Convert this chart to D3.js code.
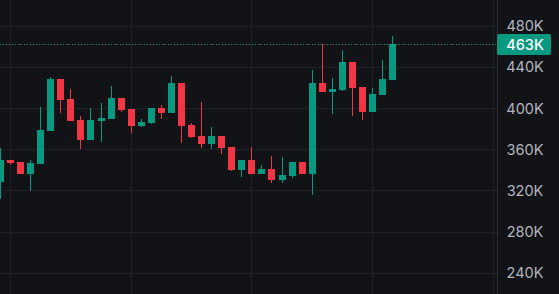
<!DOCTYPE html>
<meta charset="utf-8">
<style>
html, body {
  margin: 0;
  padding: 0;
  background: #121317;
  overflow: hidden;
}
.tick-label {
  font: 14.5px Inter, "Noto Sans", sans-serif;
  fill: #b2b5be;
}
</style>
<body>
<script src="https://d3js.org/d3.v7.min.js"></script>
<script>
// candle values in thousands, oldest first
var open = [329, 350, 348, 336.4, 346, 378, 428.6, 409.2, 388.8, 369.4, 387.8, 389.8, 410.1, 399.5, 383, 385.9, 400.4, 395.6, 424.7, 383.9,
            373.3, 365.5, 373.3, 362.6, 340.3, 350, 336.4, 341.2, 330.6, 334.4, 348, 336.4, 424.7, 416, 417.9, 445.1, 420.8, 396.5, 413, 427.6];
var high = [361.6, 350, 348, 350, 401.4, 430.5, 428.6, 418.9, 392.7, 400.4, 405.3, 421.8, 410.1, 399.5, 389.8, 400.4, 403.3, 431.5, 424.7, 385.9,
            406.2, 382, 373.3, 362.6, 350, 362.6, 345.1, 353.8, 352.9, 348, 348, 437.3, 462.5, 429.5, 456.7, 445.1, 420.8, 419.8, 447, 470.3];
var low = [312.1, 345.1, 336.4, 320.2, 346.1, 378.1, 395.6, 387.8, 360.6, 369.4, 367.4, 389.8, 396.5, 376.2, 382, 384.9, 389.8, 395.6, 366.5, 371.3,
           361.6, 360.6, 355.8, 339.3, 333.5, 336.4, 336.4, 327.6, 327.6, 332.5, 336.4, 316, 416, 394.6, 416.9, 392.7, 388.8, 396.5, 413, 427.6];
var close = [350, 347.1, 336.4, 347.1, 379.1, 428.6, 408.2, 387.8, 369.4, 388.8, 390.7, 410.1, 398.5, 383, 386.8, 400.4, 395.6, 424.7, 383, 372.3,
             365.5, 373.3, 361.6, 340.3, 350, 336.4, 341.2, 330.6, 335.4, 348, 336.4, 424.7, 416, 418.9, 445.1, 419.8, 396.5, 414, 428.6, 463];

var priceTicks = [240, 280, 320, 360, 400, 440, 480];
var timeGrid = [1, 13, 25, 37, 49];

var width = 559, height = 294, plotRight = 497;
var up = "#089981", down = "#f23645";

var data = open.map(function(o, i) {
  return {i: i, o: o, h: high[i], l: low[i], c: close[i]};
});

var x = d3.scaleLinear().domain([1, 37]).range([10.5, 372.5]);
var y = d3.scaleLinear().domain([240, 480]).range([273.3, 26]);

var svg = d3.select("body").append("svg")
    .attr("width", width)
    .attr("height", height)
    .style("display", "block");

svg.append("rect")
    .attr("width", width)
    .attr("height", height)
    .attr("fill", "#121317");

// grid
svg.append("g").selectAll("line")
    .data(priceTicks)
  .enter().append("line")
    .attr("x1", 0)
    .attr("x2", plotRight)
    .attr("y1", function(d) { return Math.floor(y(d)) + 0.5; })
    .attr("y2", function(d) { return Math.floor(y(d)) + 0.5; })
    .attr("stroke", "#1f2127");

svg.append("g").selectAll("line")
    .data(timeGrid)
  .enter().append("line")
    .attr("x1", function(d) { return Math.floor(x(d)) + 0.5; })
    .attr("x2", function(d) { return Math.floor(x(d)) + 0.5; })
    .attr("y1", 0)
    .attr("y2", height)
    .attr("stroke", "#1f2127");

// price scale border
svg.append("line")
    .attr("x1", plotRight + 0.5)
    .attr("x2", plotRight + 0.5)
    .attr("y1", 0)
    .attr("y2", height)
    .attr("stroke", "#2a2d34");

// candles
var candle = svg.append("g").selectAll("g")
    .data(data)
  .enter().append("g");

candle.append("line")
    .attr("x1", function(d) { return Math.floor(x(d.i)) + 0.5; })
    .attr("x2", function(d) { return Math.floor(x(d.i)) + 0.5; })
    .attr("y1", function(d) { return Math.round(y(d.h)); })
    .attr("y2", function(d) { return Math.round(y(d.l)); })
    .attr("stroke", function(d) { return d.c >= d.o ? up : down; })
    .attr("stroke-width", 1);

candle.append("rect")
    .attr("x", function(d) { return Math.floor(x(d.i)) - 3; })
    .attr("width", 7)
    .attr("y", function(d) { return Math.round(y(Math.max(d.o, d.c))); })
    .attr("height", function(d) {
      return Math.max(1, Math.round(y(Math.min(d.o, d.c))) - Math.round(y(Math.max(d.o, d.c))));
    })
    .attr("fill", function(d) { return d.c >= d.o ? up : down; });

// last price line
var last = close[close.length - 1];
var ly = Math.round(y(last)) + 0.5;

svg.append("line")
    .attr("x1", 0)
    .attr("x2", plotRight)
    .attr("y1", ly)
    .attr("y2", ly)
    .attr("stroke", up)
    .attr("stroke-dasharray", "1,2");

// price labels
svg.append("g").selectAll("text")
    .data(priceTicks)
  .enter().append("text")
    .attr("class", "tick-label")
    .attr("x", 525)
    .attr("y", function(d) { return y(d); })
    .attr("dy", "0.35em")
    .attr("text-anchor", "middle")
    .text(function(d) { return d + "K"; });

svg.append("rect")
    .attr("x", plotRight)
    .attr("y", ly - 10.5)
    .attr("width", 54)
    .attr("height", 21)
    .attr("rx", 2)
    .attr("fill", up);

svg.append("text")
    .attr("x", 525)
    .attr("y", ly)
    .attr("dy", "0.36em")
    .attr("text-anchor", "middle")
    .style("font", "500 14.5px Inter, 'Noto Sans', sans-serif")
    .style("fill", "#ffffff")
    .text(Math.round(last) + "K");
</script>
